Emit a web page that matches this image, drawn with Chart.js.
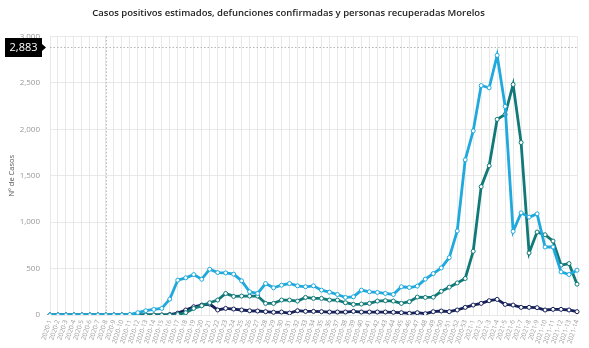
<!DOCTYPE html>
<html>
<head>
<meta charset="utf-8">
<script src="https://cdn.jsdelivr.net/npm/chart.js@4"></script>
<style>
  html, body { margin: 0; padding: 0; background: #fff; }
  #wrap { width: 589px; height: 348px; }
</style>
</head>
<body>
<div id="wrap"><canvas id="morelos"></canvas></div>
<script>
// semanas epidemiologicas
var semanas = [
  "2020-1","2020-2","2020-3","2020-4","2020-5","2020-6","2020-7","2020-8","2020-9","2020-10",
  "2020-11","2020-12","2020-13","2020-14","2020-15","2020-16","2020-17","2020-18","2020-19","2020-20",
  "2020-21","2020-22","2020-23","2020-24","2020-25","2020-26","2020-27","2020-28","2020-29","2020-30",
  "2020-31","2020-32","2020-33","2020-34","2020-35","2020-36","2020-37","2020-38","2020-39","2020-40",
  "2020-41","2020-42","2020-43","2020-44","2020-45","2020-46","2020-47","2020-48","2020-49","2020-50",
  "2020-51","2020-52","2020-53","2021-1","2021-2","2021-3","2021-4","2021-5","2021-6","2021-7",
  "2021-8","2021-9","2021-10","2021-11","2021-12","2021-13","2021-14"
];

var positivos = [
  0,0,0,0,0,0,0,0,0,0,
  5,25,46,60,71,171,375,400,435,385,
  493,457,453,440,368,250,232,339,293,321,
  339,314,304,314,268,246,221,189,196,268,
  250,243,232,221,304,296,311,386,446,507,
  618,905,1671,1982,2471,2446,2796,2246,900,1100,
  1054,1089,732,732,464,436,482
];

var recuperados = [
  0,0,0,0,0,0,0,0,0,0,
  0,0,0,0,0,0,5,25,71,100,
  132,161,232,200,204,204,204,125,125,161,
  161,150,189,179,179,161,161,132,114,118,
  125,150,154,150,125,143,193,189,192,255,
  300,345,393,686,1382,1607,2107,2160,2482,1857,
  668,893,864,796,536,554,332
];

var defunciones = [
  0,0,0,0,0,0,0,0,0,0,
  0,0,0,0,0,5,20,54,89,107,
  118,54,71,64,54,46,43,36,29,32,
  21,46,39,39,36,32,32,32,39,32,
  32,32,32,29,25,18,25,14,36,43,
  36,54,82,107,125,154,168,114,107,82,
  82,79,54,61,61,54,36
];

var yTicks = [0, 500, 1000, 1500, 2000, 2500, 3000];

// linea guia punteada con su etiqueta
var guia = { semana: 7, valor: 2883 };

var guiaPlugin = {
  id: "guia",
  afterDatasetsDraw: function(chart) {
    var ctx = chart.ctx, area = chart.chartArea;
    var x = chart.scales.x.getPixelForValue(guia.semana);
    var y = chart.scales.y.getPixelForValue(guia.valor);
    ctx.save();
    ctx.strokeStyle = "#b5b5b5";
    ctx.lineWidth = 1;
    ctx.setLineDash([1.5, 2]);
    ctx.beginPath();
    ctx.moveTo(x + 0.5, area.top);
    ctx.lineTo(x + 0.5, area.bottom);
    ctx.moveTo(area.left, Math.round(y) + 0.5);
    ctx.lineTo(area.right, Math.round(y) + 0.5);
    ctx.stroke();
    ctx.restore();
  },
  afterDraw: function(chart) {
    var ctx = chart.ctx;
    var y = Math.round(chart.scales.y.getPixelForValue(guia.valor));
    ctx.save();
    ctx.fillStyle = "#000";
    ctx.fillRect(5, y - 9, 37, 19);
    ctx.beginPath();
    ctx.moveTo(42, y - 3);
    ctx.lineTo(46, y + 0.5);
    ctx.lineTo(42, y + 4);
    ctx.fill();
    ctx.fillStyle = "#fff";
    ctx.font = "11px 'Open Sans', sans-serif";
    ctx.textAlign = "center";
    ctx.textBaseline = "middle";
    ctx.fillText(guia.valor.toLocaleString("en-US"), 23.5, y + 1);
    ctx.restore();
  }
};

function serie(label, data, color) {
  return {
    label: label,
    data: data,
    borderColor: color,
    backgroundColor: "#fff",
    borderWidth: 2.8,
    pointRadius: 2,
    pointBorderWidth: 1,
    pointBackgroundColor: "#fff",
    pointBorderColor: color,
    tension: 0,
    fill: false
  };
}

new Chart("morelos", {
  type: "line",
  data: {
    labels: semanas,
    datasets: [
      serie("Casos positivos estimados", positivos, "#20a9dc"),
      serie("Personas recuperadas", recuperados, "#117a78"),
      serie("Defunciones confirmadas", defunciones, "#162259")
    ]
  },
  options: {
    responsive: true,
    maintainAspectRatio: false,
    animation: false,
    layout: { padding: { left: 0, right: 12, top: 0, bottom: 0 } },
    plugins: {
      legend: { display: false },
      tooltip: { enabled: false },
      title: {
        display: true,
        text: "Casos positivos estimados, defunciones confirmadas y personas recuperadas Morelos",
        color: "#222",
        font: { family: "'Open Sans', sans-serif", size: 9.5, weight: "600" },
        padding: { top: 8, bottom: 17 }
      }
    },
    scales: {
      x: {
        grid: { color: "#e8e8e8", drawTicks: false },
        border: { display: false },
        ticks: {
          autoSkip: false,
          maxRotation: 72,
          minRotation: 72,
          padding: 4,
          color: "#999",
          font: { family: "'Open Sans', sans-serif", size: 6.5 }
        },
        afterFit: function(scale) { scale.height = 33; }
      },
      y: {
        min: 0,
        max: 3000,
        afterBuildTicks: function(scale) {
          scale.ticks = yTicks.map(function(v) { return { value: v }; });
        },
        grid: { color: "#e8e8e8", drawTicks: false },
        border: { display: false },
        ticks: {
          padding: 10,
          color: "#999",
          font: { family: "'Open Sans', sans-serif", size: 8 },
          callback: function(v) { return v.toLocaleString("en-US"); }
        },
        title: {
          display: true,
          text: "Nº de Casos",
          color: "#555",
          font: { family: "'Open Sans', sans-serif", size: 7.5 },
          padding: { top: 7, bottom: 0 }
        },
        afterFit: function(scale) { scale.width = 50; }
      }
    }
  },
  plugins: [guiaPlugin]
});
</script>
</body>
</html>
